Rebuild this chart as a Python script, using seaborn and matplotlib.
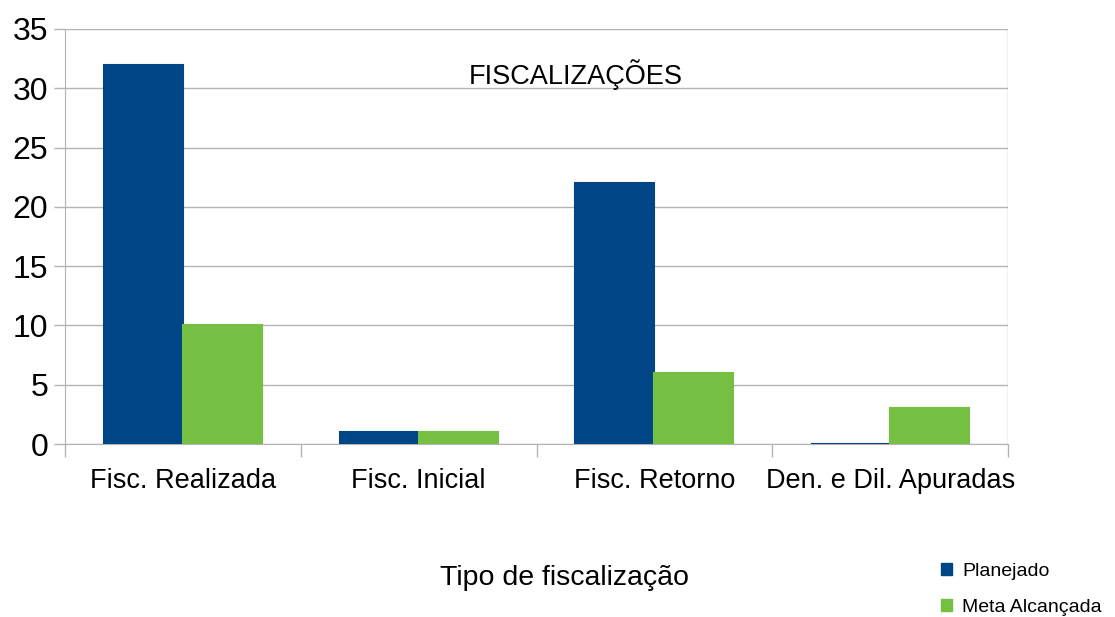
import pandas as pd
import matplotlib.pyplot as plt
import seaborn as sns
from matplotlib.patches import Patch

# Data
categorias = ['Fisc. Realizada', 'Fisc. Inicial', 'Fisc. Retorno', 'Den. e Dil. Apuradas']
planejado = [32, 1, 22, 0]
meta_alcancada = [10, 1, 6, 3]
series = ['Planejado', 'Meta Alcançada']
cores = ['#004586', '#75c043']

df = pd.DataFrame({
    'tipo': categorias * 2,
    'valor': planejado + meta_alcancada,
    'serie': [series[0]] * len(categorias) + [series[1]] * len(categorias),
})

sns.set_style('white')
plt.rcParams['font.family'] = ['Liberation Sans', 'DejaVu Sans']
plt.rcParams['text.color'] = 'black'
plt.rcParams['xtick.color'] = 'black'
plt.rcParams['ytick.color'] = 'black'

fig = plt.figure(figsize=(11.15, 6.17), dpi=100)
ax = fig.add_axes([65 / 1115, 1 - 444 / 617, 943 / 1115, 415 / 617])

sns.barplot(data=df, x='tipo', y='valor', hue='serie', palette=cores,
            width=0.67, saturation=1, ax=ax, legend=False, zorder=3)
# thin line for zero-height bars
for bar in ax.patches:
    bar.set_edgecolor(bar.get_facecolor())
    bar.set_linewidth(1.5)

ax.set_ylim(0, 35)
ax.set_xlim(-0.5, 3.5)
ax.set_yticks(range(0, 36, 5))
ax.grid(axis='y', color='#b3b3b3', linewidth=1, zorder=0)
ax.set_xlabel('')
ax.set_ylabel('')

# category boundary ticks
ax.set_xticks([i - 0.5 for i in range(len(categorias) + 1)], minor=True)
ax.tick_params(axis='x', which='major', length=0, labelsize=19.5, pad=17)
ax.tick_params(axis='x', which='minor', length=9, color='#b3b3b3', width=1, bottom=True)
ax.tick_params(axis='y', length=8, color='#b3b3b3', labelcolor='black', width=1,
               labelsize=23, pad=4, left=True)

for side in ['top', 'right']:
    ax.spines[side].set_visible(False)
ax.spines['left'].set_color('#b3b3b3')
ax.spines['bottom'].set_color('#b3b3b3')
ax.axvline(3.5, color='#b3b3b3', linewidth=1, zorder=1)

fig.text(576 / 1115, 1 - 75 / 617, 'FISCALIZAÇÕES', ha='center', va='center', fontsize=19.5)
fig.text(565 / 1115, 1 - 578 / 617, 'Tipo de fiscalização', ha='center', va='center', fontsize=20.5)

handles = [Patch(facecolor=c, edgecolor=c) for c in cores]
fig.legend(handles, series, loc='upper left', bbox_to_anchor=(923 / 1115, 1 - 545 / 617),
           frameon=False, fontsize=14, handlelength=0.6, handleheight=0.6,
           handletextpad=0.5, labelspacing=1.0)

fig.savefig('out.png', dpi=100)
